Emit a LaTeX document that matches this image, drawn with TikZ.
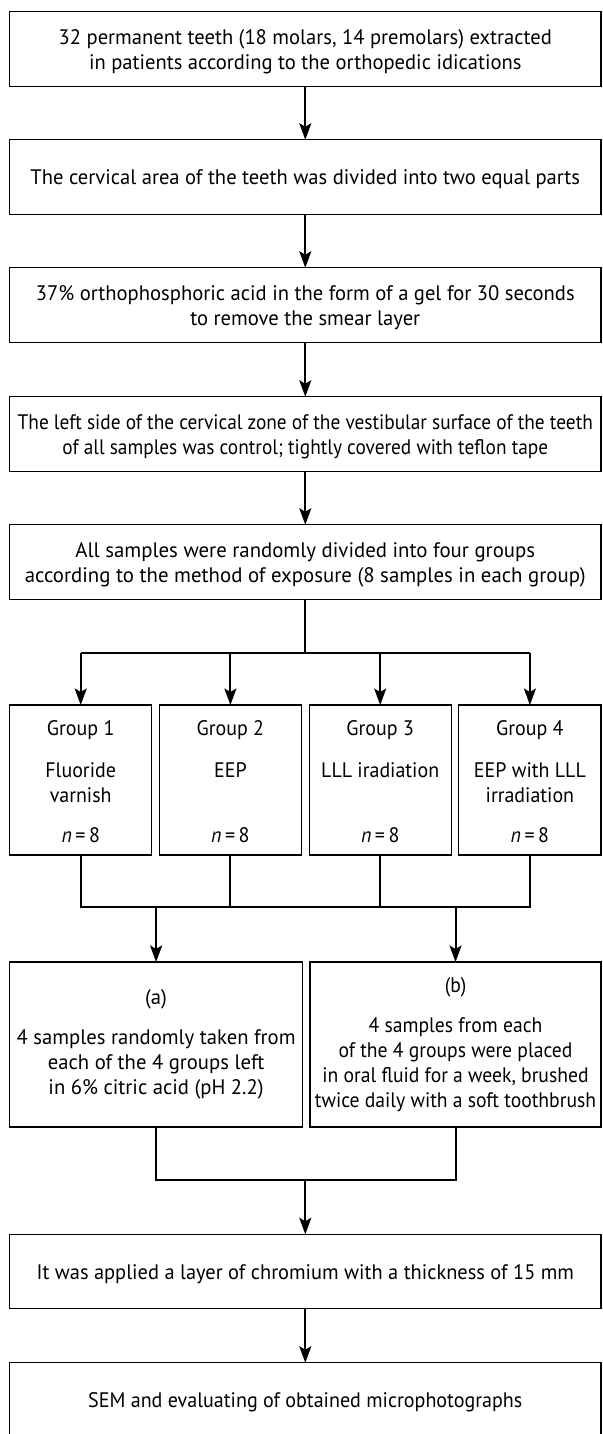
\documentclass[tikz,border=0pt]{standalone}
\usepackage{fontspec}
\setmainfont{PT Sans}
\newfontfamily\probefont{PT Sans}
\newlength\probew
\newcommand\makefit[3]{%
  \settowidth\probew{\probefont\fontsize{21}{25}\selectfont #3}%
  \edef\tmpstretch{\fpeval{round(#2/(\the\probew),3)}}%
  \edef\tmpdo{\noexpand\newfontfamily\noexpand#1{PT Sans}[FakeStretch=\tmpstretch]}%
  \tmpdo}
\makefit\fA{493}{32 permanent teeth (18 molars, 14 premolars) extracted}
\makefit\fB{549.6}{The cervical area of the teeth was divided into two equal parts}
\makefit\fC{539}{37\% orthophosphoric acid in the form of a gel for 30 seconds}
\makefit\fD{575.4}{The left side of the cervical zone of the vestibular surface of the teeth}
\makefit\fE{561}{according to the method of exposure (8 samples in each group)}
\makefit\fF{537.6}{It was applied a layer of chromium with a thickness of 15 mm}
\makefit\fH{434}{SEM and evaluating of obtained microphotographs}
\makefit\fI{279}{4 samples randomly taken from}
\makefit\fJ{281}{twice daily with a soft toothbrush}
\makefit\fG{118}{LLL iradiation}
\usetikzlibrary{arrows.meta}
\newcommand\boxfont{\fontsize{21}{25}\selectfont}
\newcommand\tallstrut{\rule{0pt}{20pt}}
\begin{document}
\begin{tikzpicture}[x=1pt,y=-1pt,
  box/.style={draw, line width=1.1pt, inner sep=0pt, outer sep=0pt, align=center, font=\boxfont},
  wide/.style={box, minimum width=591.4pt, minimum height=74.5pt},
  grp/.style={box, minimum width=142.2pt, minimum height=150pt},
  half/.style={box, minimum height=165pt},
  txt/.style={inner sep=0pt, align=center, font=\boxfont\fG, anchor=base},
  conn/.style={line width=2pt},
  arr/.style={conn, -{Stealth[length=16.5pt,width=12pt,inset=3.5pt]}}]
\useasboundingbox (0,0) rectangle (602,1434);

\node[wide, font=\boxfont\fA] (b1) at (305.3,49) {\tallstrut32 permanent teeth (18 molars, 14 premolars) extracted\\in patients according to the orthopedic idications};
\node[wide, font=\boxfont\fB] (b2) at (305.3,177) {\tallstrut The cervical area of the teeth was divided into two equal parts};
\node[wide, font=\boxfont\fC] (b3) at (305.3,305) {\tallstrut37\% orthophosphoric acid in the form of a gel for 30 seconds\\to remove the smear layer};
\node[wide, font=\boxfont\fD] (b4) at (305.3,434) {\tallstrut The left side of the cervical zone of the vestibular surface of the teeth\\of all samples was control; tightly covered with teflon tape};
\node[wide, font=\boxfont\fE] (b5) at (305.3,562) {\tallstrut All samples were randomly divided into four groups\\according to the method of exposure (8 samples in each group)};

\node[grp] (g1) at (80.7,780) {};
\node[grp] (g2) at (230.4,780) {};
\node[grp] (g3) at (380.2,780) {};
\node[grp] (g4) at (529.9,780) {};

\node[txt] (g1t) at (80.7,735) {Group 1};
\node[txt] (g2t) at (230.4,735) {Group 2};
\node[txt] (g3t) at (380.2,735) {Group 3};
\node[txt] (g4t) at (529.9,735) {Group 4};
\node[txt] (g1a) at (80.7,777) {Fluoride};
\node[txt] (g1b) at (80.7,802) {varnish};
\node[txt] (g2a) at (230.4,777) {EEP};
\node[txt] (g3a) at (380.2,777) {LLL iradiation};
\node[txt] (g4a) at (529.9,777) {EEP with LLL};
\node[txt] (g4b) at (529.9,802) {irradiation};
\node[txt] (g1n) at (80.7,842) {\textit{n}\,=\,8};
\node[txt] (g2n) at (230.4,842) {\textit{n}\,=\,8};
\node[txt] (g3n) at (380.2,842) {\textit{n}\,=\,8};
\node[txt] (g4n) at (529.9,842) {\textit{n}\,=\,8};

\node[half, minimum width=293pt, font=\boxfont\fI] (ba) at (156.1,1044.5) {(a)\\[15pt]4 samples randomly taken from\\each of the 4 groups left\\in 6\% citric acid (pH 2.2)};
\node[half, minimum width=291pt, font=\boxfont\fJ] (bb) at (455.5,1044.5) {(b)\\[15pt]4 samples from each\\of the 4 groups were placed\\in oral fluid for a week, brushed\\twice daily with a soft toothbrush};

\node[wide, font=\boxfont\fF] (b6) at (305.3,1271.5) {\tallstrut It was applied a layer of chromium with a thickness of 15 mm};
\node[wide, font=\boxfont\fH] (b7) at (305.3,1400) {\tallstrut SEM and evaluating of obtained microphotographs};

\coordinate (busA) at (305.3,652.5);
\coordinate (busB) at (305.3,907);
\coordinate (busC) at (305.3,1180);

\draw[arr] (b1) -- (b2);
\draw[arr] (b2) -- (b3);
\draw[arr] (b3) -- (b4);
\draw[arr] (b4) -- (b5);

\draw[conn] (b5.south) -- (busA);
\draw[conn] (g1.north |- busA) -- (g4.north |- busA);
\draw[arr] (g1.north |- busA) -- (g1.north);
\draw[arr] (g2.north |- busA) -- (g2.north);
\draw[arr] (g3.north |- busA) -- (g3.north);
\draw[arr] (g4.north |- busA) -- (g4.north);

\draw[conn] (g1.south) |- (busB) -| (g4.south);
\draw[conn] (g2.south) -- (g2.south |- busB);
\draw[conn] (g3.south) -- (g3.south |- busB);
\draw[arr] (ba.north |- busB) -- (ba.north);
\draw[arr] (bb.north |- busB) -- (bb.north);

\draw[conn] (ba.south) |- (busC) -| (bb.south);
\draw[arr] (busC) -- (b6.north);
\draw[arr] (b6) -- (b7);
\end{tikzpicture}
\end{document}
